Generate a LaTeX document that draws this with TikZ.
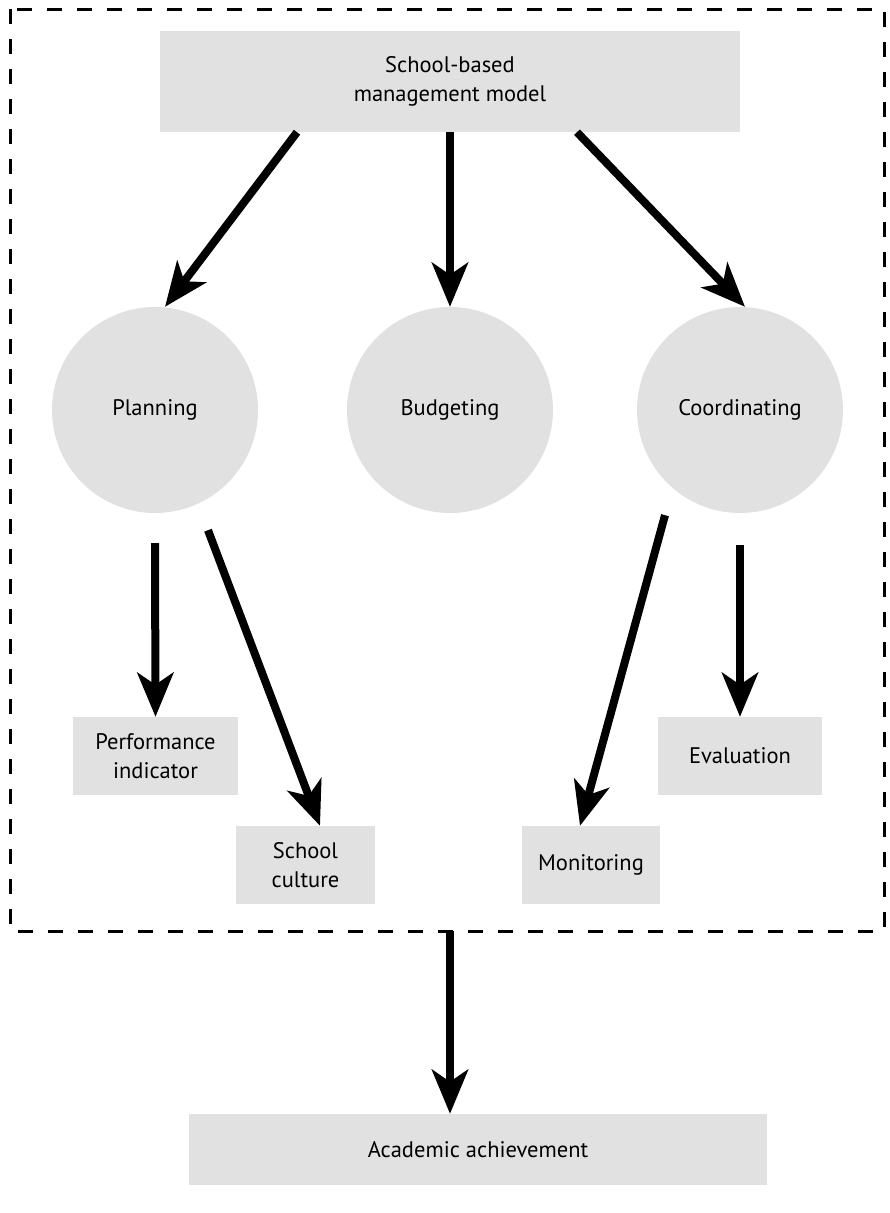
\documentclass[tikz,border=0pt]{standalone}
\usepackage{fontspec}
\setmainfont{PT Sans}
\usetikzlibrary{arrows.meta}
\definecolor{boxgray}{RGB}{225,225,225}
\tikzset{
  rbox/.style={fill=boxgray, draw=none, align=center, inner sep=0pt, font=\fontsize{22.5}{29}\selectfont},
  circ/.style={circle, fill=boxgray, draw=none, minimum size=206pt, inner sep=0pt, font=\fontsize{22.5}{29}\selectfont},
  arr/.style={line width=8pt, -{Stealth[length=44pt,width=36pt,inset=12pt]}},
  frame/.style={line width=3pt, dash pattern=on 15pt off 15pt}
}
\begin{document}
\begin{tikzpicture}[x=1pt,y=-1pt]
\useasboundingbox (0,0) rectangle (889,1213);
\draw[frame] (10,9) rectangle (884,931);
\node[rbox, minimum width=580pt, minimum height=101pt] (sbm) at (450,81.5) {School-based\\management model};
\node[circ] (plan) at (155,410) {Planning};
\node[circ] (budg) at (450,410) {Budgeting};
\node[circ] (coord) at (740,410) {Coordinating};
\node[rbox, minimum width=165pt, minimum height=78pt] (perf) at (155.5,756) {Performance\\indicator};
\node[rbox, minimum width=139pt, minimum height=78pt] (cult) at (305.5,865) {School\\culture};
\node[rbox, minimum width=138pt, minimum height=78pt] (mon) at (591,865) {Monitoring};
\node[rbox, minimum width=164pt, minimum height=78pt] (eval) at (740,756) {Evaluation};
\node[rbox, minimum width=578pt, minimum height=71pt] (acad) at (478,1149.5) {Academic achievement};
\coordinate (frameb) at (450,931);
\draw[arr] (sbm.south -| 297,0) -- (plan.north -| 165,0);
\draw[arr] (sbm.south) -- (budg.north);
\draw[arr] (sbm.south -| 577,0) -- (coord.north -| 745,0);
\draw[arr] ([yshift=-30pt]plan.south) -- (perf.north);
\draw[arr] ([xshift=53pt,yshift=-17pt]plan.south) -- (cult.north -| 320,0);
\draw[arr] ([xshift=-75pt,yshift=-2pt]coord.south) -- (mon.north -| 580,0);
\draw[arr] ([yshift=-32pt]coord.south) -- (eval.north);
\draw[arr] (frameb) -- (acad.north -| 450,0);
\end{tikzpicture}
\end{document}
